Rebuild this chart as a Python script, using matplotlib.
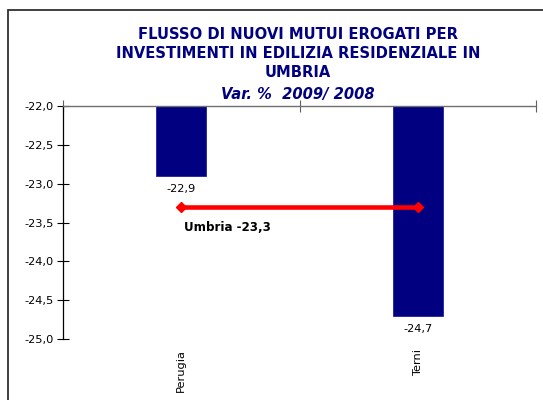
import matplotlib
matplotlib.use("Agg")
import matplotlib.pyplot as plt
from matplotlib.patches import Rectangle

provinces = ["Perugia", "Terni"]
values = [-22.9, -24.7]
value_labels = ["-22,9", "-24,7"]
umbria = -23.3
umbria_label = "Umbria -23,3"
yticks = [-22.0, -22.5, -23.0, -23.5, -24.0, -24.5, -25.0]
ytick_labels = ["-22,0", "-22,5", "-23,0", "-23,5", "-24,0", "-24,5", "-25,0"]
title = "FLUSSO DI NUOVI MUTUI EROGATI PER\nINVESTIMENTI IN EDILIZIA RESIDENZIALE IN\nUMBRIA"
subtitle = "Var. %  2009/ 2008"

base = -22.0
navy = "#000080"

fig = plt.figure(figsize=(5.43, 4.0), dpi=100)
# outer chart frame (cut off at right and bottom, as in the source)
fig.patches.append(Rectangle((8 / 543, -0.1), 1.2, 1.1 - 10 / 400,
                             transform=fig.transFigure, fill=False,
                             edgecolor="#303030", linewidth=1.3))

ax = fig.add_axes([63 / 543, 1 - 339 / 400, (536 - 63) / 543, (339 - 106) / 400])

x = list(range(len(provinces)))
ax.bar(x, [v - base for v in values], bottom=base, width=0.21, color=navy,
       edgecolor="#2020a0", linewidth=0.6)

for xi, v, lab in zip(x, values, value_labels):
    ax.annotate(lab, (xi, v), xytext=(0, -6), textcoords="offset points",
                ha="center", va="top", fontsize=8.2)

ax.plot([0, 1], [umbria, umbria], color="red", lw=3.3, marker="D", ms=5.5,
        solid_capstyle="butt")
ax.text(0.01, umbria - 0.27, umbria_label, fontsize=8.6, fontweight="bold",
        ha="left", va="center")

ax.set_xlim(-0.5, 1.5)
ax.set_ylim(-25.0, -22.0)
ax.set_yticks(yticks)
ax.set_yticklabels(ytick_labels, fontsize=8.2)
ax.tick_params(axis="y", direction="inout", length=9, width=0.8, pad=2)

ax.set_xticks(x)
ax.set_xticklabels(provinces, rotation=90, fontsize=8.2, va="top")
ax.set_xticks([-0.5, 0.5, 1.5], minor=True)
ax.tick_params(axis="x", which="major", length=0, pad=7)
ax.tick_params(axis="x", which="minor", top=True, bottom=False,
               direction="inout", length=9, width=0.8, color="#606060")

ax.spines["bottom"].set_visible(False)
ax.spines["right"].set_visible(False)
ax.spines["top"].set_color("#707070")
ax.spines["left"].set_linewidth(0.9)
ax.spines["top"].set_linewidth(1.0)

fig.text(298 / 543, 1 - 53.5 / 400, title, ha="center", va="center",
         fontsize=10.6, fontweight="bold", color=navy, linespacing=1.33)
fig.text(298 / 543, 1 - 94 / 400, subtitle, ha="center", va="center",
         fontsize=10.6, fontweight="bold", fontstyle="italic", color=navy)

fig.savefig("out.png", dpi=100)
